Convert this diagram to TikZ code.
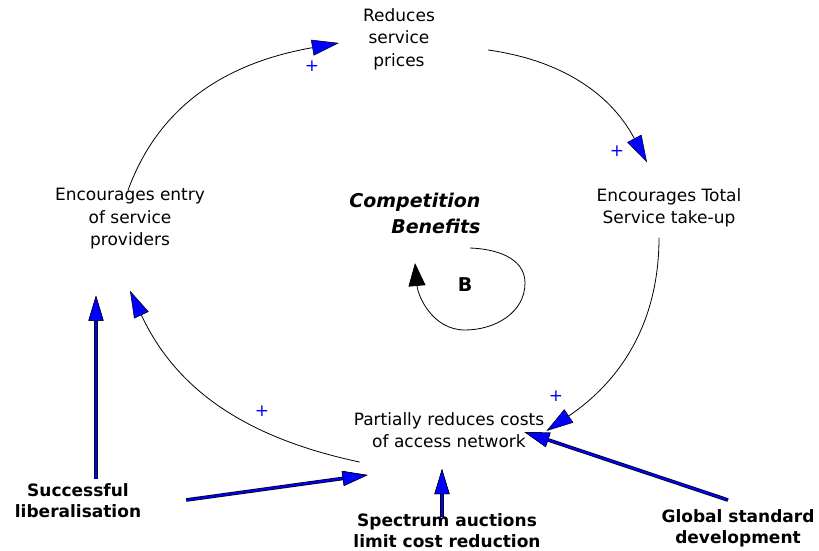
\documentclass[tikz,border=0pt]{standalone}
\usepackage{fontspec}
\setmainfont{DejaVu Sans}
\usetikzlibrary{arrows.meta}

\begin{document}
\begin{tikzpicture}[x=1pt,y=1pt,
    var/.style={align=center,font=\fontsize{17}{22.5}\selectfont,inner sep=2pt},
    ext/.style={align=center,font=\fontsize{17}{21}\selectfont\bfseries,inner sep=2pt},
    sign/.style={text=blue,font=\fontsize{17}{17}\selectfont,inner sep=0pt},
    link/.style={line width=0.8pt,-{Triangle[length=27pt,width=16pt,color=black,fill=blue,line width=0.5pt]}},
    push/.style={draw=blue,line width=2pt,preaction={draw=black,line width=3.6pt},
      -{Triangle[length=25pt,width=15pt,color=black,fill=blue,line width=0.5pt]}}]
  \useasboundingbox (0,0) rectangle (819,551);
  % loop variables
  \node[var] (prices) at (399,512) {Reduces\\service\\prices};
  \node[var] (entry) at (130,332) {Encourages entry\\of service\\providers};
  \node[var] (total) at (669,343) {Encourages Total\\Service take-up};
  \node[var] (costs) at (449,121) {Partially reduces costs\\of access network};
  \node[align=right,anchor=east,font=\fontsize{19}{26}\selectfont\bfseries\itshape] (title) at (484,338) {Competition\\Benefits};
  \node[font=\fontsize{19}{19}\selectfont\bfseries] (loopB) at (465,266) {B};
  % outside factors
  \node[ext] (liberal) at (78,50) {Successful\\liberalisation};
  \node[ext] (spectrum) at (447,20) {Spectrum auctions\\limit cost reduction};
  \node[ext] (global) at (738,23) {Global standard\\development};
  % loop links
  \draw[link] ([shift={(-2,-4)}]entry.north) to[out=70,in=190] ([shift={(-22,-4)}]prices.west);
  \draw[link] ([shift={(51,-11)}]prices.east) to[out=-8,in=118] ([shift={(-22,24)}]total.north);
  \draw[link] ([shift={(-10,-8)}]total.south) to[out=-90,in=34] ([shift={(0,-1)}]costs.east);
  \draw[link] ([shift={(8,-12)}]costs.south west) to[out=168,in=-65] ([shift={(0,-39)}]entry.south);
  \node[sign] (s1) at (312,485) {+};
  \node[sign] (s2) at (617,400) {+};
  \node[sign] (s3) at (556,155) {+};
  \node[sign] (s4) at (262,140) {+};
  % balancing loop mark
  \draw[line width=0.8pt,-{Triangle[length=23pt,width=17pt]}] ([shift={(5,37)}]loopB.center)
    to[out=-2,in=90] ([shift={(60,2)}]loopB.center)
    to[out=-90,in=0] ([shift={(0,-45)}]loopB.center)
    to[out=180,in=-85] ([shift={(-50,22)}]loopB.center);
  % external pushes
  \draw[push] ([shift={(18,3)}]liberal.north) -- ([shift={(-34,-44)}]entry.south);
  \draw[push] ([shift={(43,1)}]liberal.east) -- ([shift={(16,-25)}]costs.south west);
  \draw[push] ([shift={(-5,-5)}]spectrum.north) -- ([shift={(-7,-19)}]costs.south);
  \draw[push] ([shift={(-10,7)}]global.north) -- ([shift={(-22,-2)}]costs.east);
\end{tikzpicture}
\end{document}
